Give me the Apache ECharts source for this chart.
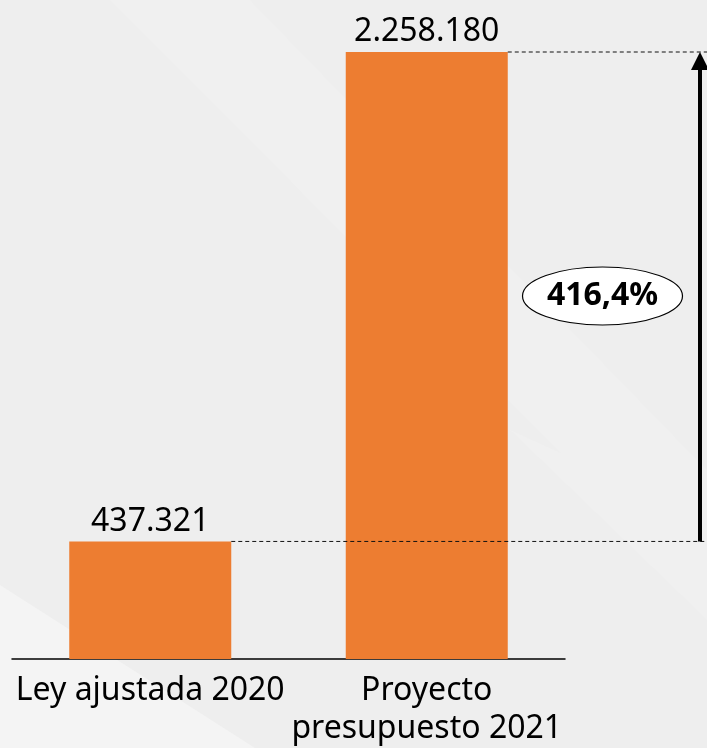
<!DOCTYPE html>
<html>
<head>
<meta charset="utf-8">
<script src="https://cdn.jsdelivr.net/npm/echarts@6/dist/echarts.min.js"></script>
<style>
    html, body { margin: 0; padding: 0; background: #eeeeee; }
    #main { width: 707px; height: 748px; }
</style>
</head>
<body>
<div id="main"></div>
<script>
// datos
var categorias = ['Ley ajustada 2020', 'Proyecto\npresupuesto 2021'];
var valores = [437321, 2258180];

var fuente = '"Noto Sans", "Open Sans", sans-serif';
var naranja = '#ED7D31';
var anchoBarra = 162;

// formato 2.258.180
function miles(v) {
    return String(v).replace(/\B(?=(\d{3})+(?!\d))/g, '.');
}

var myChart = echarts.init(document.getElementById('main'));

var option = {
    backgroundColor: '#eeeeee',
    animation: false,
    grid: {
        left: 12,
        right: 142,
        top: 52,
        bottom: 88
    },
    xAxis: {
        type: 'category',
        data: categorias,
        axisLine: { lineStyle: { color: '#000', width: 1.5 } },
        axisTick: { show: false },
        axisLabel: {
            fontFamily: fuente,
            fontSize: 32,
            lineHeight: 38,
            color: '#000',
            margin: 13,
            interval: 0
        }
    },
    yAxis: {
        type: 'value',
        min: 0,
        max: valores[1],
        show: false
    },
    series: [{
        type: 'bar',
        data: valores,
        barWidth: anchoBarra,
        itemStyle: { color: naranja },
        label: {
            show: true,
            position: 'top',
            distance: 4,
            fontFamily: fuente,
            fontSize: 32,
            color: '#000',
            formatter: function (p) { return miles(p.value); }
        },
        z: 2
    }]
};
myChart.setOption(option);

/* anotaciones: lineas punteadas, flecha y elipse con la variacion */
var p0 = myChart.convertToPixel({ seriesIndex: 0 }, [0, valores[0]]);
var p1 = myChart.convertToPixel({ seriesIndex: 0 }, [1, valores[1]]);
var xFlecha = 700;
var variacion = ((valores[1] / valores[0] - 1) * 100).toFixed(1).replace('.', ',') + '%';
var yMedio = 296;

myChart.setOption({
    graphic: [
        // fondo con franjas diagonales suaves
        {
            type: 'polygon', z: -10, silent: true,
            shape: { points: [[0, 585], [0, 748], [255, 748]] },
            style: { fill: '#f4f4f4' }
        },
        {
            type: 'polygon', z: -10, silent: true,
            shape: { points: [[110, 0], [250, 0], [707, 470], [707, 600]] },
            style: { fill: '#f0f0f0' }
        },
        {
            type: 'polygon', z: -10, silent: true,
            shape: { points: [[510, 430], [707, 520], [707, 620]] },
            style: { fill: '#f0f0f0' }
        },
        // linea punteada superior
        {
            type: 'line', z: 10, silent: true,
            shape: { x1: p1[0] + anchoBarra / 2, y1: p1[1], x2: 707, y2: p1[1] },
            style: { stroke: '#111', lineWidth: 1, lineDash: [4, 3] }
        },
        // linea punteada inferior
        {
            type: 'line', z: 10, silent: true,
            shape: { x1: p0[0] + anchoBarra / 2, y1: p0[1], x2: 707, y2: p0[1] },
            style: { stroke: '#111', lineWidth: 1, lineDash: [4, 3] }
        },
        // flecha vertical
        {
            type: 'line', z: 11, silent: true,
            shape: { x1: xFlecha, y1: p0[1], x2: xFlecha, y2: p1[1] + 14 },
            style: { stroke: '#000', lineWidth: 4 }
        },
        {
            type: 'polygon', z: 11, silent: true,
            shape: { points: [[xFlecha - 9, p1[1] + 18], [xFlecha + 9, p1[1] + 18], [xFlecha, p1[1]]] },
            style: { fill: '#000' }
        },
        // elipse con porcentaje
        {
            type: 'ellipse', z: 12, silent: true,
            shape: { cx: 602.5, cy: yMedio, rx: 80, ry: 29 },
            style: { fill: '#fff', stroke: '#000', lineWidth: 1.2 }
        },
        {
            type: 'text', z: 13, silent: true,
            x: 602.5, y: yMedio,
            style: {
                text: variacion,
                fontFamily: fuente,
                fontSize: 32,
                fontWeight: 'bold',
                fill: '#000',
                align: 'center',
                verticalAlign: 'middle'
            }
        }
    ]
});
</script>
</body>
</html>
